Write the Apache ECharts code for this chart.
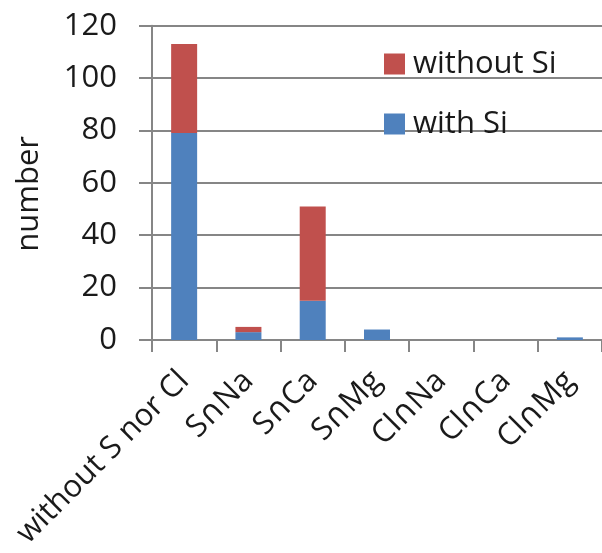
<!DOCTYPE html>
<html>
<head>
<meta charset="utf-8">
<script src="https://cdn.jsdelivr.net/npm/echarts@6/dist/echarts.min.js"></script>
<style>html,body{margin:0;padding:0;background:#fff}#c{width:602px;height:553px}</style>
</head>
<body>
<div id="c"></div>
<script>
const categories = ['without S nor Cl', 'S\u2229Na', 'S\u2229Ca', 'S\u2229Mg', 'Cl\u2229Na', 'Cl\u2229Ca', 'Cl\u2229Mg'];
const withSi = [79, 3, 15, 4, 0, 0, 1];
const withoutSi = [34, 2, 36, 0, 0, 0, 0];
const yTicks = { min: 0, max: 120, interval: 20 };

const FONT = 'Open Sans';
const LABEL_FONT = "'Open Sans', 'DejaVu Sans', sans-serif";
const axisColor = '#868686';
const chart = echarts.init(document.getElementById('c'), null, { renderer: 'canvas' });
chart.setOption({
  animation: false,
  backgroundColor: '#ffffff',
  grid: { left: 152, top: 25.7, bottom: 213, right: -10, containLabel: false },
  legend: {
    orient: 'vertical',
    left: 384,
    top: 48,
    padding: 0,
    itemWidth: 21,
    itemHeight: 21,
    itemGap: 28,
    icon: 'rect',
    data: ['without Si', 'with Si'],
    textStyle: { fontFamily: FONT, fontSize: 31, color: '#1a1a1a', padding: [0, 0, 0, 3], lineHeight: 32 }
  },
  xAxis: {
    type: 'category',
    data: categories,
    axisLine: { lineStyle: { color: axisColor, width: 2 } },
    axisTick: { show: true, length: 12, lineStyle: { color: axisColor, width: 2 } },
    axisLabel: { rotate: 45, margin: 36, fontFamily: LABEL_FONT, fontSize: 31, color: '#1a1a1a', interval: 0 }
  },
  yAxis: {
    type: 'value',
    min: yTicks.min, max: yTicks.max, interval: yTicks.interval,
    name: 'number',
    nameLocation: 'middle',
    nameGap: 107,
    nameRotate: 90,
    nameTextStyle: { fontFamily: FONT, fontSize: 31, color: '#1a1a1a', padding: [0, 22, 0, 0] },
    axisLine: { show: true, lineStyle: { color: axisColor, width: 2 } },
    axisTick: { show: true, length: 13, lineStyle: { color: axisColor, width: 2 } },
    splitLine: { show: true, lineStyle: { color: axisColor, width: 2 } },
    axisLabel: { margin: 35, fontFamily: FONT, fontSize: 31, color: '#1a1a1a' }
  },
  series: [
    { name: 'with Si', type: 'bar', stack: 's', data: withSi, barWidth: 26,
      itemStyle: { color: '#4F81BD' } },
    { name: 'without Si', type: 'bar', stack: 's', data: withoutSi, barWidth: 26,
      itemStyle: { color: '#C0504D' } }
  ]
});
</script>
</body>
</html>
